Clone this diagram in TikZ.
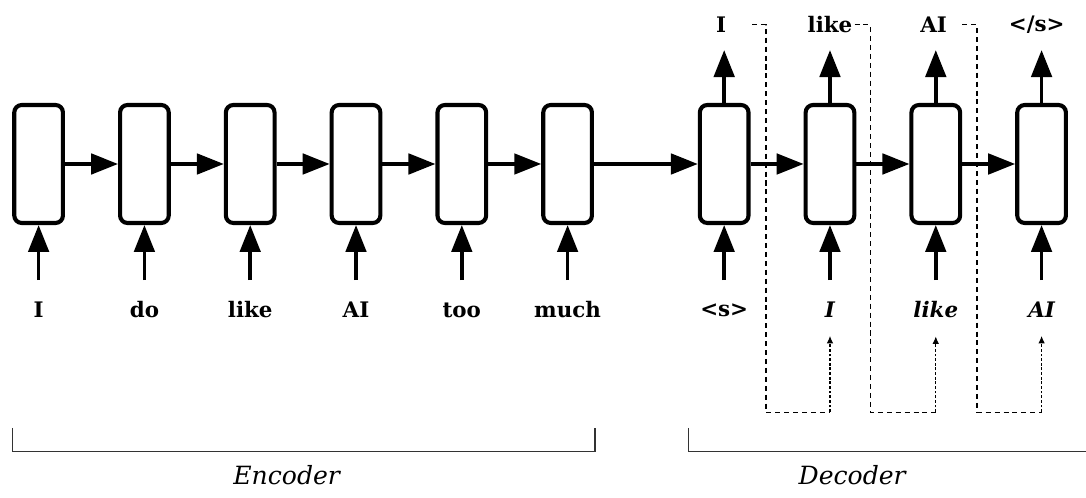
\documentclass[tikz,border=0pt]{standalone}
\usepackage{fontspec}
\setmainfont{DejaVu Serif}
\usetikzlibrary{arrows.meta, positioning}

\begin{document}
\begin{tikzpicture}[
    cell/.style={rectangle, draw=black, line width=2.2pt, minimum width=0.92cm, minimum height=2.23cm, rounded corners=4pt, inner sep=0pt},
    arrow/.style={-{Triangle[length=14.5pt, width=11pt]}, line width=1.9pt},
    word/.style={font=\fontsize{11.5}{13}\selectfont\bfseries, inner sep=1pt},
    prev/.style={font=\fontsize{11.5}{13}\selectfont\bfseries\itshape, inner sep=1pt},
    feedback/.style={dash pattern=on 2.7pt off 2.1pt, line width=0.6pt},
    feedtip/.style={-{Latex[length=4pt, width=3.5pt]}, dash pattern=on 1.5pt off 1pt, line width=0.6pt},
    bracket/.style={line width=0.7pt, draw=black!80},
    part/.style={font=\fontsize{13.5}{16}\selectfont\itshape}
]
    \useasboundingbox (0,-6.30) rectangle (20.53,3.10);

    % Encoder cells
    \node[cell] (e1) at (0.73,0) {};
    \node[cell] (e2) at (2.73,0) {};
    \node[cell] (e3) at (4.73,0) {};
    \node[cell] (e4) at (6.73,0) {};
    \node[cell] (e5) at (8.73,0) {};
    \node[cell] (e6) at (10.73,0) {};

    % Decoder cells
    \node[cell] (d1) at (13.69,0) {};
    \node[cell] (d2) at (15.69,0) {};
    \node[cell] (d3) at (17.69,0) {};
    \node[cell] (d4) at (19.69,0) {};

    % Source words
    \node[word] (w1) at (0.73,-2.76) {I};
    \node[word] (w2) at (2.73,-2.76) {do};
    \node[word] (w3) at (4.73,-2.76) {like};
    \node[word] (w4) at (6.73,-2.76) {AI};
    \node[word] (w5) at (8.73,-2.76) {too};
    \node[word] (w6) at (10.73,-2.76) {much};

    % Decoder inputs
    \node[word] (i1) at (13.69,-2.76) {<s>};
    \node[prev] (i2) at (15.69,-2.76) {I};
    \node[prev] (i3) at (17.69,-2.76) {like};
    \node[prev] (i4) at (19.69,-2.76) {AI};

    % Decoder outputs
    \node[word] (o1) at (13.63,2.63) {I};
    \node[word] (o2) at (15.69,2.63) {like};
    \node[word] (o3) at (17.65,2.63) {AI};
    \node[word] (o4) at (19.60,2.63) {</s>};

    % Recurrent arrows
    \draw[arrow] (e1.east) -- (e2.west);
    \draw[arrow] (e2.east) -- (e3.west);
    \draw[arrow] (e3.east) -- (e4.west);
    \draw[arrow] (e4.east) -- (e5.west);
    \draw[arrow] (e5.east) -- (e6.west);
    \draw[arrow] (e6.east) -- (d1.west);
    \draw[arrow] (d1.east) -- (d2.west);
    \draw[arrow] (d2.east) -- (d3.west);
    \draw[arrow] (d3.east) -- (d4.west);

    % Inputs into the cells
    \draw[arrow] ([yshift=-1.04cm]e1.south) -- (e1.south);
    \draw[arrow] ([yshift=-1.04cm]e2.south) -- (e2.south);
    \draw[arrow] ([yshift=-1.04cm]e3.south) -- (e3.south);
    \draw[arrow] ([yshift=-1.04cm]e4.south) -- (e4.south);
    \draw[arrow] ([yshift=-1.04cm]e5.south) -- (e5.south);
    \draw[arrow] ([yshift=-1.04cm]e6.south) -- (e6.south);
    \draw[arrow] ([yshift=-1.04cm]d1.south) -- (d1.south);
    \draw[arrow] ([yshift=-1.04cm]d2.south) -- (d2.south);
    \draw[arrow] ([yshift=-1.04cm]d3.south) -- (d3.south);
    \draw[arrow] ([yshift=-1.04cm]d4.south) -- (d4.south);

    % Outputs
    \draw[arrow] (d1.north) -- ++(0,1.0);
    \draw[arrow] (d2.north) -- ++(0,1.0);
    \draw[arrow] (d3.north) -- ++(0,1.0);
    \draw[arrow] (d4.north) -- ++(0,1.0);

    % Feeding each output back as the next input
    \coordinate (f1) at (15.69,-4.69);
    \coordinate (f2) at (17.69,-4.69);
    \coordinate (f3) at (19.69,-4.69);
    \draw[feedback] ([xshift=0.45cm]o1.east) -| (14.48,-4.69) -- (f1);
    \draw[feedback] (o2.east) -| (16.45,-4.69) -- (f2);
    \draw[feedback] ([xshift=0.25cm]o3.east) -| (18.47,-4.69) -- (f3);
    \draw[feedtip] (f1) -- ([yshift=-0.3cm]i2.south);
    \draw[feedtip] (f2) -- ([yshift=-0.3cm]i3.south);
    \draw[feedtip] (f3) -- ([yshift=-0.3cm]i4.south);

    % Brackets
    \draw[bracket] (0.23,-4.99) -- (0.23,-5.44) -- (11.25,-5.44) -- (11.25,-4.99);
    \draw[bracket] (13.01,-4.99) -- (13.01,-5.44) -- (20.6,-5.44);
    \node[part] (enc) at (5.42,-5.88) {Encoder};
    \node[part] (dec) at (16.11,-5.88) {Decoder};

\end{tikzpicture}
\end{document}
